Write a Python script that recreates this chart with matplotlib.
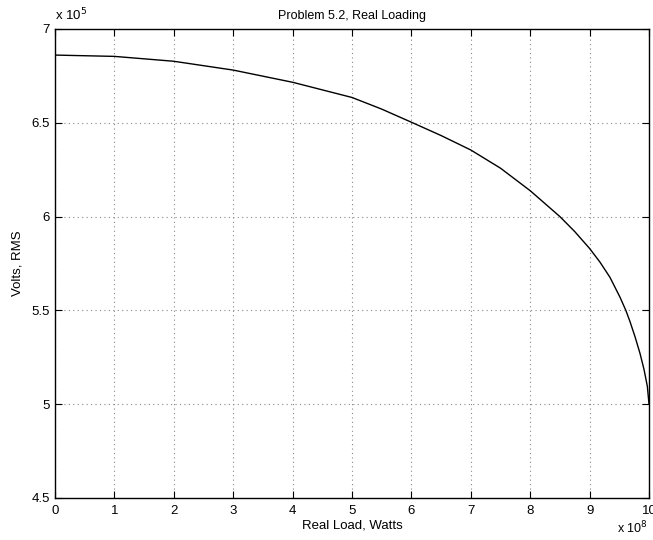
import matplotlib
matplotlib.use('Agg')
import matplotlib.pyplot as plt

plt.rcParams['font.family'] = ['Liberation Sans', 'DejaVu Sans']

# values; load in 1e8 W, volts in 1e5 V rms
load = [0, 1, 2, 3, 4, 5, 5.5, 6, 6.5, 7, 7.5, 8, 8.5, 8.75, 9, 9.175,
        9.343, 9.512, 9.61, 9.68, 9.764, 9.848, 9.916, 9.972, 10]
volts = [6.861, 6.854, 6.828, 6.781, 6.716, 6.635, 6.573, 6.503, 6.432, 6.355,
         6.258, 6.138, 6.0, 5.92, 5.83, 5.757, 5.676, 5.57, 5.5, 5.44,
         5.36, 5.271, 5.185, 5.095, 5.0]
xticks = [0, 1, 2, 3, 4, 5, 6, 7, 8, 9, 10]
yticks = [4.5, 5, 5.5, 6, 6.5, 7]
yticklabels = ['4.5', '5', '5.5', '6', '6.5', '7']

fig = plt.figure(figsize=(6.53, 5.40), dpi=100)
ax = fig.add_axes([0.0842, 0.0778, 0.9097, 0.8685])

ax.plot(load, volts, color='black', linewidth=1.0)

ax.set_xlim(0, 10)
ax.set_ylim(4.5, 7)
ax.set_xticks(xticks)
ax.set_yticks(yticks)
ax.set_yticklabels(yticklabels)
ax.tick_params(direction='in', length=5, width=0.8, labelsize=9.5,
               top=True, right=True, colors='black')
ax.tick_params(axis='x', pad=5)
ax.grid(True, linestyle=(0, (1, 3)), color='#888888', linewidth=0.8)
for s in ax.spines.values():
    s.set_linewidth(1.0)

ax.set_title('Problem 5.2, Real Loading', fontsize=9, pad=7)
ax.set_xlabel('Real Load, Watts', fontsize=9.5, labelpad=2)
ax.set_ylabel('Volts, RMS', fontsize=9.5, labelpad=6)

ax.text(0.0, 1.012, r'x 10$^{5}$', transform=ax.transAxes, fontsize=9.5,
        ha='left', va='bottom')
ax.text(0.998, -0.0746, r'x 10$^{8}$', transform=ax.transAxes, fontsize=9,
        ha='right', va='baseline')

fig.savefig('out.png', dpi=100)
